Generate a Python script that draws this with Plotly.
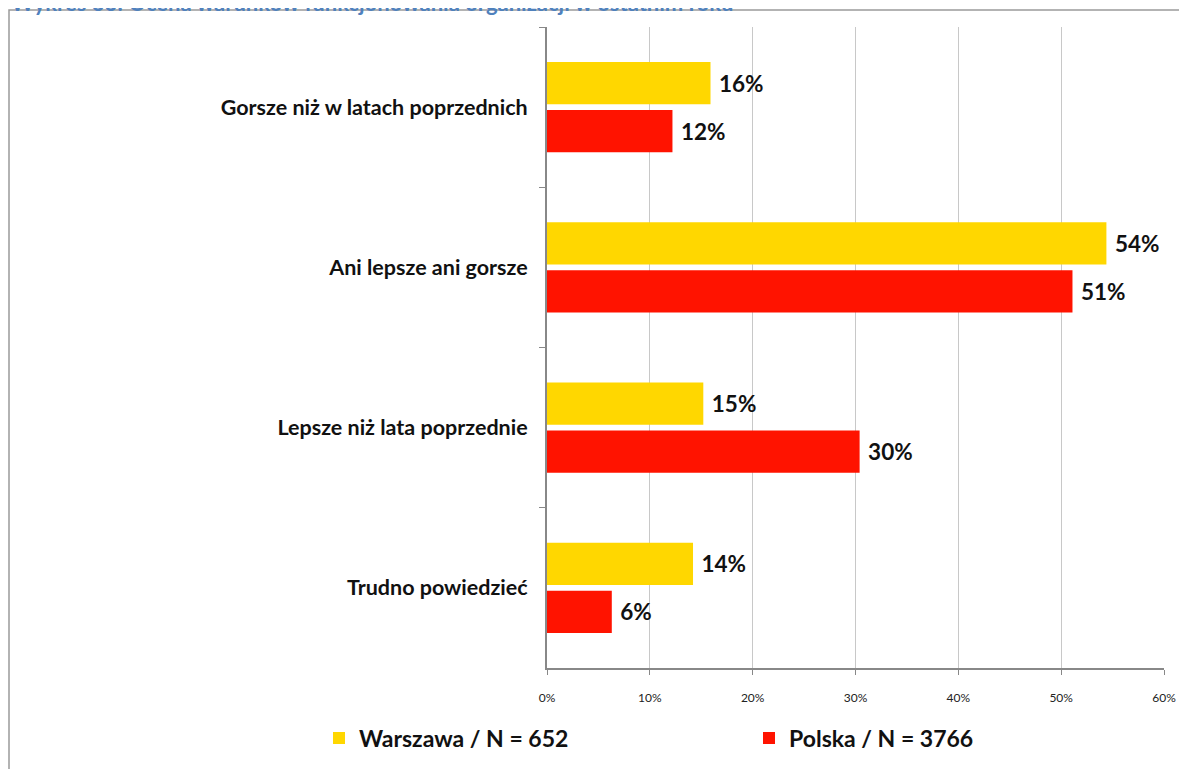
import plotly.graph_objects as go

categories = ["Gorsze niż w latach poprzednich", "Ani lepsze ani gorsze",
              "Lepsze niż lata poprzednie", "Trudno powiedzieć"]
warszawa = [15.9, 54.4, 15.2, 14.2]
polska = [12.2, 51.1, 30.4, 6.3]
warszawa_labels = ["16%", "54%", "15%", "14%"]
polska_labels = ["12%", "51%", "30%", "6%"]
x_ticks = [0, 10, 20, 30, 40, 50, 60]
x_tick_labels = ["0%", "10%", "20%", "30%", "40%", "50%", "60%"]
title_text = "Wykres 33: Ocena warunków funkcjonowania organizacji w ostatnim roku"

FONT = "Lato, 'Open Sans', sans-serif"
OFF = 8  # page body margin
W, H = 1187 - OFF, 769 - OFF
L, T = 547 - OFF, 27 - OFF
R = W - (1164 - OFF)
B = H - (668 - OFF)
pw, ph = W - L - R, H - T - B


def px2x(page_px):
    return (page_px - OFF - L) / pw


def py2y(page_py):
    return (H - B - (page_py - OFF)) / ph


label_font = dict(family=FONT, size=22.5, color="#111111", weight="bold")

fig = go.Figure()
fig.add_trace(go.Bar(
    y=categories, x=warszawa, name="Warszawa / N = 652", orientation="h",
    marker=dict(color="#FFD700", line=dict(width=0)),
    text=warszawa_labels, texttemplate="\u00a0%{text}", textposition="outside",
    textfont=label_font, cliponaxis=False,
))
fig.add_trace(go.Bar(
    y=categories, x=polska, name="Polska / N = 3766", orientation="h",
    marker=dict(color="#FF1300", line=dict(width=0)),
    text=polska_labels, texttemplate="\u00a0%{text}", textposition="outside",
    textfont=label_font, cliponaxis=False,
))

fig.update_layout(
    width=W, height=H,
    margin=dict(l=L, r=R, t=T, b=B, autoexpand=False),
    paper_bgcolor="white", plot_bgcolor="white",
    barmode="group", bargap=0.4, bargroupgap=0.12,
    font=dict(family=FONT, color="#111111"),
    showlegend=True,
    legend=dict(
        orientation="h", x=px2x(319), xanchor="left", y=py2y(738), yanchor="middle",
        font=dict(family=FONT, size=23, color="#111111", weight="bold"),
        entrywidth=385, entrywidthmode="pixels", itemwidth=30,
        traceorder="normal", bgcolor="rgba(0,0,0,0)",
    ),
    xaxis=dict(
        range=[0, 60], tickvals=x_ticks, ticktext=x_tick_labels,
        showgrid=True, gridcolor="#C8C8C8", gridwidth=1,
        showline=True, linecolor="#888888", linewidth=2,
        ticks="outside", ticklen=5, tickcolor="#888888", tickwidth=1,
        tickfont=dict(family=FONT, size=12, color="#222222"),
        ticklabelstandoff=13, zeroline=False,
    ),
    yaxis=dict(
        autorange="reversed", type="category",
        showline=True, linecolor="#888888", linewidth=2,
        ticks="outside", ticklen=6, tickcolor="#888888", tickson="boundaries",
        tickfont=dict(family=FONT, size=21.5, color="#111111", weight="bold"),
        ticklabelstandoff=13, showgrid=False,
    ),
    shapes=[dict(
        type="rect", xref="paper", yref="paper",
        x0=px2x(9), x1=px2x(1187 + 20), y0=py2y(769 + 20), y1=py2y(10),
        line=dict(color="#9A9A9A", width=1.5), fillcolor="rgba(0,0,0,0)", layer="below",
    )],
    annotations=[dict(
        text=title_text, xref="paper", yref="paper",
        x=px2x(9), xanchor="left", y=py2y(3), yanchor="middle",
        showarrow=False, font=dict(family=FONT, size=22, color="#4F81BD", weight="bold"),
    )],
)

fig.write_html("out.html")
